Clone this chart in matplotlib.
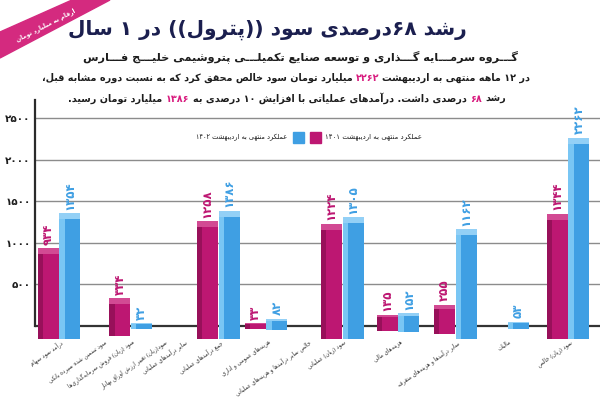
import matplotlib
matplotlib.use("Agg")
import matplotlib.pyplot as plt
from matplotlib.patches import Polygon, Rectangle
from matplotlib.offsetbox import TextArea, HPacker, AnchoredOffsetbox

# ---------------- data ----------------
categories = [
    "درآمد سود سهام",
    "سود تضمین شده سپرده بانکی",
    "سود (زیان) فروش سرمایه‌گذاری‌ها",
    "سود(زیان) تغییر ارزش اوراق بهادار",
    "سایر درآمدهای عملیاتی",
    "جمع درآمدهای عملیاتی",
    "هزینه‌های عمومی و اداری",
    "خالص سایر درآمدها و هزینه‌های عملیاتی",
    "سود (زیان) عملیاتی",
    "هزینه‌های مالی",
    "سایر درآمدها و هزینه‌های متفرقه",
    "مالیات",
    "سود (زیان) خالص",
]
values_1401 = [934, 0, 334, 0, 0, 1258, 33, 0, 1224, 135, 255, 0, 1344]
values_1402 = [1354, 0, 32, 0, 0, 1386, 82, 0, 1305, 152, 1162, 53, 2262]
series_names = ["عملکرد منتهی به اردیبهشت ۱۴۰۱", "عملکرد منتهی به اردیبهشت ۱۴۰۲"]
y_ticks = [500, 1000, 1500, 2000, 2500]

title = "رشد ۶۸درصدی سود ((پترول)) در ۱ سال"
subtitle = "گـــروه سرمـــایه گـــذاری و توسعه صنایع تکمیلـــی پتروشیمی خلیـــج فـــارس"
ribbon_text = "ارقام به میلیارد تومان"
line1 = [("در ۱۲ ماهه منتهی به اردیبهشت", 0), ("۲۲۶۲", 1),
         ("میلیارد تومان سود خالص محقق کرد که به نسبت دوره مشابه قبل،", 0)]
line2 = [("رشد", 0), ("۶۸", 1), ("درصدی داشت. درآمدهای عملیاتی با افزایش ۱۰ درصدی به", 0),
         ("۱۳۸۶", 1), ("میلیارد تومان رسید.", 0)]

# layout: horizontal slot of each category (irregular in the original graphic)
slots = [0, 1.05, 1.71, 2.48, 2.95, 3.79, 4.93, 5.9, 6.74, 8.07, 9.43, 10.67, 12.12]

# ---------------- minimal Persian shaping + RTL ordering ----------------
def _dual(b):
    return (b, b + 1, b + 2, b + 3)

FORMS = {
    'ا': (0xFE8D, 0xFE8E, None, None), 'آ': (0xFE81, 0xFE82, None, None),
    'أ': (0xFE83, 0xFE84, None, None), 'إ': (0xFE87, 0xFE88, None, None),
    'ب': _dual(0xFE8F), 'پ': _dual(0xFB56), 'ت': _dual(0xFE95), 'ث': _dual(0xFE99),
    'ج': _dual(0xFE9D), 'چ': _dual(0xFB7A), 'ح': _dual(0xFEA1), 'خ': _dual(0xFEA5),
    'د': (0xFEA9, 0xFEAA, None, None), 'ذ': (0xFEAB, 0xFEAC, None, None),
    'ر': (0xFEAD, 0xFEAE, None, None), 'ز': (0xFEAF, 0xFEB0, None, None),
    'ژ': (0xFB8A, 0xFB8B, None, None),
    'س': _dual(0xFEB1), 'ش': _dual(0xFEB5), 'ص': _dual(0xFEB9), 'ض': _dual(0xFEBD),
    'ط': _dual(0xFEC1), 'ظ': _dual(0xFEC5), 'ع': _dual(0xFEC9), 'غ': _dual(0xFECD),
    'ف': _dual(0xFED1), 'ق': _dual(0xFED5), 'ک': _dual(0xFB8E), 'گ': _dual(0xFB92),
    'ل': _dual(0xFEDD), 'م': _dual(0xFEE1), 'ن': _dual(0xFEE5), 'ه': _dual(0xFEE9),
    'و': (0xFEED, 0xFEEE, None, None), 'ی': _dual(0xFBFC), 'ئ': _dual(0xFE89),
    'ؤ': (0xFE85, 0xFE86, None, None), 'ة': (0xFE93, 0xFE94, None, None),
}
LAM_ALEF = {'ا': (0xFEFB, 0xFEFC), 'آ': (0xFEF5, 0xFEF6), 'أ': (0xFEF7, 0xFEF8), 'إ': (0xFEF9, 0xFEFA)}
TATWEEL = 'ـ'


def _jn(c):
    return c == TATWEEL or (c in FORMS and FORMS[c][2] is not None)


def _jp(c):
    return c == TATWEEL or c in FORMS


def shape(s):
    out, i, n = [], 0, len(s)
    while i < n:
        c = s[i]
        if c == '\u200c':
            i += 1
            continue
        prev = s[i - 1] if i > 0 else None
        cp = prev is not None and _jn(prev) and _jp(c)
        if c == 'ل' and i + 1 < n and s[i + 1] in LAM_ALEF:
            out.append(chr(LAM_ALEF[s[i + 1]][1 if cp else 0]))
            i += 2
            continue
        nxt = s[i + 1] if i + 1 < n else None
        cn = nxt is not None and _jn(c) and _jp(nxt)
        if c in FORMS:
            iso, fin, ini, med = FORMS[c]
            g = med if (cp and cn) else fin if cp else ini if cn else iso
            out.append(chr(g))
        else:
            out.append(c)
        i += 1
    return ''.join(out)


DIGITS = set('0123456789۰۱۲۳۴۵۶۷۸۹')
MIRROR = {'(': ')', ')': '(', '«': '»', '»': '«'}


def fa(s):
    sh = shape(s)
    tokens, buf = [], ''
    for ch in sh:
        if ch in DIGITS:
            buf += ch
        else:
            if buf:
                tokens.append(buf)
                buf = ''
            tokens.append(MIRROR.get(ch, ch))
    if buf:
        tokens.append(buf)
    return ''.join(reversed(tokens))


to_fa = str.maketrans('0123456789', '۰۱۲۳۴۵۶۷۸۹')

# ---------------- figure ----------------
plt.rcParams['font.family'] = ['DejaVu Sans']
W, H = 600, 399
fig = plt.figure(figsize=(6.0, 3.99), dpi=100)
fig.patch.set_facecolor('white')

MAG, MAG_D, MAG_L = '#bd1772', '#98105a', '#d24a93'
BLU, BLU_L, BLU_T = '#3f9fe3', '#79c6f4', '#93d0f6'
DARK = '#1d1d1d'
HL = '#d81b7e'

ytop = 2716
ax = fig.add_axes([35 / W, (H - 361) / H, 565 / W, 261 / H])
ax.set_xlim(-0.571, 12.88)
ax.set_ylim(-420, ytop)
ax.set_facecolor('none')
for sp in ['top', 'right', 'bottom']:
    ax.spines[sp].set_visible(False)
ax.spines['left'].set_bounds(0, ytop)
ax.spines['left'].set_color('#2b2b2b')
ax.spines['left'].set_linewidth(1.6)
ax.set_axisbelow(True)
ax.yaxis.grid(True, color='#8c8c8c', lw=1.0)
ax.set_yticks(y_ticks)
ax.set_yticklabels([fa(str(v).translate(to_fa)) for v in y_ticks],
                   fontsize=7.5, fontweight='bold', color=DARK)
ax.tick_params(axis='y', length=0, pad=3)
ax.set_xticks([])
ax.axhline(0, color='#333333', lw=1.6, zorder=1)

w = 0.5
off = 0.26


def draw_bar(x, v, main, side, top, txtcol):
    if v <= 0:
        return
    b = -min(160, 0.3 * v + 20)
    cap = min(70, 0.2 * v)
    ax.bar(x, v - b, bottom=b, width=w, color=main, zorder=3, linewidth=0)
    ax.bar(x - w * 0.375, v - b, bottom=b, width=w * 0.25, color=side, zorder=3.1, linewidth=0)
    ax.bar(x, cap, bottom=v - cap, width=w, color=top, zorder=3.2, linewidth=0)
    ax.text(x, v + 45, str(v).translate(to_fa), rotation=90, ha='center', va='bottom',
            fontsize=8.5, fontweight='bold', color=txtcol, zorder=5)


for i, s in enumerate(slots):
    draw_bar(s - off, values_1401[i], MAG, MAG_D, MAG_L, MAG)
    draw_bar(s + off, values_1402[i], BLU, BLU_L, BLU_T, BLU)
    ax.text(s + 0.03, -150, fa(categories[i]), rotation=35, rotation_mode='anchor',
            ha='right', va='top', fontsize=4.0, color='#333333', zorder=6)

# legend
fig.patches.append(Rectangle((293 / W, 1 - 143 / H), 11 / W, 11 / H, transform=fig.transFigure,
                             color=BLU, zorder=5))
fig.patches.append(Rectangle((310 / W, 1 - 143 / H), 11 / W, 11 / H, transform=fig.transFigure,
                             color=MAG, zorder=5))
fig.text(287 / W, 1 - 137.5 / H, fa(series_names[1]), ha='right', va='center', fontsize=4.8, color=DARK)
fig.text(325 / W, 1 - 137.5 / H, fa(series_names[0]), ha='left', va='center', fontsize=5.0, color=DARK)

# title block
fig.text(267 / W, 1 - 30 / H, fa(title), ha='center', va='center', fontsize=14.5,
         fontweight='bold', color='#1b1f4f')
fig.text(300 / W, 1 - 57 / H, fa(subtitle), ha='center', va='center', fontsize=8.1,
         fontweight='bold', color=DARK)


def rich_line(segs, xc, yc, fs):
    boxes = []
    for txt, hl in reversed(segs):
        boxes.append(TextArea(fa(txt), textprops=dict(color=HL if hl else DARK, fontsize=fs,
                                                      fontweight='bold')))
    pk = HPacker(children=boxes, align='baseline', pad=0, sep=fs * 0.35)
    ab = AnchoredOffsetbox(loc='center', child=pk, bbox_to_anchor=(xc / W, 1 - yc / H),
                           bbox_transform=fig.transFigure, frameon=False, pad=0, borderpad=0)
    fig.add_artist(ab)


rich_line(line1, 286, 78, 6.9)
rich_line(line2, 287, 98, 6.9)

# corner ribbon
rib = [(0, 32), (72, 0), (110, 0), (0, 58)]
fig.patches.append(Polygon([(x / W, 1 - y / H) for x, y in rib], closed=True,
                           transform=fig.transFigure, color='#d42a7f', zorder=4))
fig.text(46 / W, 1 - 25 / H, fa(ribbon_text), rotation=27, ha='center', va='center',
         fontsize=4.3, fontweight='bold', color='white', rotation_mode='anchor', zorder=6)

fig.savefig('out.png', dpi=100, facecolor='white')
